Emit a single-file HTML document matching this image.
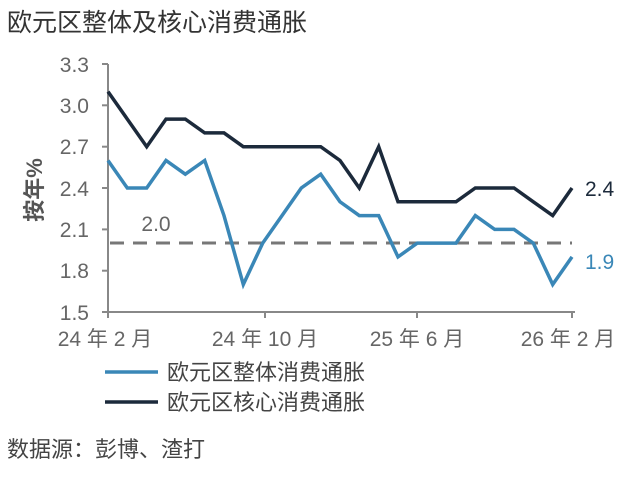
<!DOCTYPE html>
<html><head><meta charset="utf-8"><style>
body{margin:0;background:#fff;width:636px;height:476px;overflow:hidden}
svg text{font-family:"Liberation Sans","Noto Sans CJK SC",sans-serif}
</style></head><body>
<svg width="636" height="476" xmlns="http://www.w3.org/2000/svg">
<text x="7" y="31" font-size="25" fill="#333">欧元区整体及核心消费通胀</text>
<g stroke="#888" stroke-width="2" fill="none">
<line x1="108" y1="64" x2="108" y2="313"/>
<line x1="107" y1="312" x2="575" y2="312"/>
<line x1="102" y1="64" x2="108" y2="64"/><line x1="102" y1="105.3" x2="108" y2="105.3"/>
<line x1="102" y1="146.7" x2="108" y2="146.7"/><line x1="102" y1="188" x2="108" y2="188"/>
<line x1="102" y1="229.4" x2="108" y2="229.4"/><line x1="102" y1="270.7" x2="108" y2="270.7"/>
<line x1="102" y1="312" x2="108" y2="312"/>
<line x1="108" y1="312" x2="108" y2="318"/><line x1="265" y1="312" x2="265" y2="318"/>
<line x1="417" y1="312" x2="417" y2="318"/><line x1="572" y1="312" x2="572" y2="318"/>
</g>
<g font-size="21" fill="#666" text-anchor="end">
<text x="89" y="72">3.3</text><text x="89" y="113">3.0</text><text x="89" y="154">2.7</text>
<text x="89" y="196">2.4</text><text x="89" y="237">2.1</text><text x="89" y="278">1.8</text>
<text x="89" y="320">1.5</text>
</g>
<text transform="translate(42,190) rotate(-90)" font-size="22" font-weight="bold" fill="#555" text-anchor="middle">按年%</text>
<g font-size="21" fill="#666" text-anchor="middle">
<text x="105" y="346">24 年 2 月</text><text x="265" y="346">24 年 10 月</text>
<text x="417" y="346">25 年 6 月</text><text x="568" y="346">26 年 2 月</text>
</g>
<line x1="110" y1="243" x2="572" y2="243" stroke="#777" stroke-width="3" stroke-dasharray="14,9"/>
<text x="156" y="231" font-size="21" fill="#666" text-anchor="middle">2.0</text>
<polyline fill="none" stroke="#1c2a3b" stroke-width="3.5" points="108,91.6 127.3,119.1 146.7,146.7 166,119.1 185.3,119.1 204.7,132.9 224,132.9 243.3,146.7 262.7,146.7 282,146.7 301.3,146.7 320.7,146.7 340,160.5 359.3,188 378.7,146.7 398,201.8 417.3,201.8 436.7,201.8 456,201.8 475.3,188 494.7,188 514,188 533.3,201.8 552.7,215.6 572,188"/>
<polyline fill="none" stroke="#3a87b7" stroke-width="3.5" points="108,160.5 127.3,188 146.7,188 166,160.5 185.3,174.2 204.7,160.5 224,215.6 243.3,284.5 262.7,243.1 282,215.6 301.3,188 320.7,174.2 340,201.8 359.3,215.6 378.7,215.6 398,256.9 417.3,243.1 436.7,243.1 456,243.1 475.3,215.6 494.7,229.4 514,229.4 533.3,243.1 552.7,284.5 572,256.9"/>
<text x="585" y="196" font-size="21" fill="#1c2a3b">2.4</text>
<text x="585" y="269" font-size="21" fill="#3a87b7">1.9</text>
<line x1="105" y1="372" x2="158" y2="372" stroke="#3a87b7" stroke-width="3.5"/>
<text x="167" y="380" font-size="22" fill="#444">欧元区整体消费通胀</text>
<line x1="105" y1="402" x2="158" y2="402" stroke="#1c2a3b" stroke-width="3.5"/>
<text x="167" y="410" font-size="22" fill="#444">欧元区核心消费通胀</text>
<text x="7" y="457" font-size="22" fill="#444">数据源：彭博、渣打</text>
</svg>
</body></html>
